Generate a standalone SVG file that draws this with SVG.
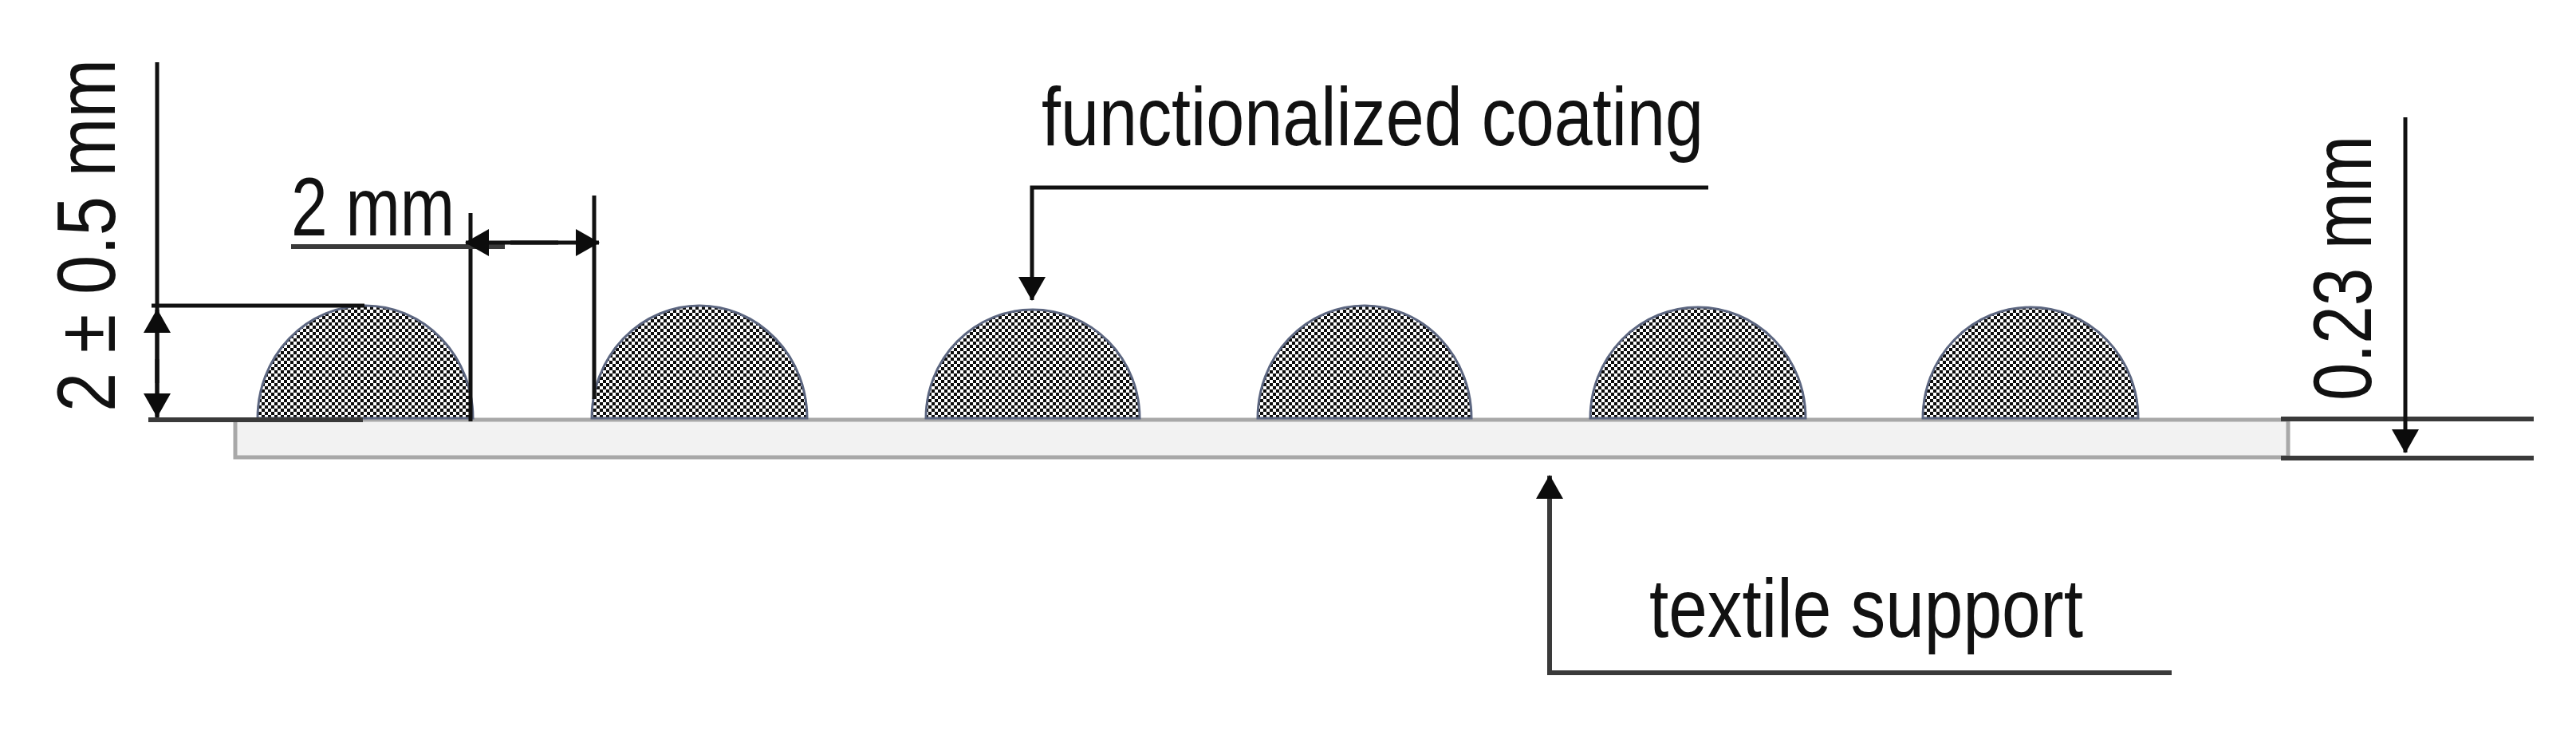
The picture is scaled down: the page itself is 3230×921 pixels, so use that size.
<svg xmlns="http://www.w3.org/2000/svg" width="3230" height="921" viewBox="0 0 3230 921">
<style>
.t{font-family:"Liberation Sans",Arial,sans-serif;fill:#111;font-size:103px}
.l{stroke:#111;stroke-width:5;fill:none}
.g{stroke:#3a3a3a;stroke-width:6;fill:none}
.dome{fill:url(#chk);stroke:#5c6680;stroke-width:3}
</style>
<defs>
<pattern id="chk" width="8" height="8" patternUnits="userSpaceOnUse">
<rect width="8" height="8" fill="#fff"/>
<rect width="4" height="4" fill="#0c0c0c"/>
<rect x="4" y="4" width="4" height="4" fill="#0c0c0c"/>
</pattern>
<marker id="a" markerUnits="userSpaceOnUse" markerWidth="32" markerHeight="36" refX="29" refY="17" orient="auto">
<path d="M0,0L30,17L0,34z" fill="#0c0c0c"/>
</marker>
</defs>
<rect width="3230" height="921" fill="#fff"/>
<g id="textile-support">
<rect x="295" y="526" width="2574" height="47" fill="#f2f2f2" stroke="#a8a8a8" stroke-width="5"/>
</g>
<g id="coating">
<path class="dome" d="M323,524A135,141 0 0 1 593,524z"/>
<path class="dome" d="M742,524A135,141 0 0 1 1012,524z"/>
<path class="dome" d="M1161,524A134,136 0 0 1 1429,524z"/>
<path class="dome" d="M1577,524A134,141 0 0 1 1845,524z"/>
<path class="dome" d="M1994,524A135,139 0 0 1 2264,524z"/>
<path class="dome" d="M2411,524A135,139 0 0 1 2681,524z"/>
</g>
<g id="connectors">
<path class="l" d="M197,78V526"/>
<path class="l" d="M190,383H457"/>
<path class="g" d="M186,526H455"/>
<path class="l" d="M197,480V388" marker-end="url(#a)"/>
<path class="l" d="M197,450V522" marker-end="url(#a)"/>
<path class="l" d="M590,267V528"/>
<path class="l" d="M745,245V500"/>
<path class="g" d="M365,309H633"/>
<path class="l" d="M700,304H584" marker-end="url(#a)"/>
<path class="l" d="M640,304H751" marker-end="url(#a)"/>
<path class="l" d="M2142,235H1294V376" marker-end="url(#a)"/>
<path class="g" d="M2723,843H1943V596" marker-end="url(#a)"/>
<path class="g" d="M2860,525H3177M2860,574H3177"/>
<path class="l" d="M3016,147V567" marker-end="url(#a)"/>
</g>
<g id="labels">
<text class="t" x="365" y="295" textLength="205" lengthAdjust="spacingAndGlyphs">2 mm</text>
<text class="t" transform="translate(144,516) rotate(-90)" textLength="442" lengthAdjust="spacingAndGlyphs">2 ± 0.5 mm</text>
<text class="t" transform="translate(2973,502) rotate(-90)" textLength="332" lengthAdjust="spacingAndGlyphs">0.23 mm</text>
<text class="t" x="1306" y="182" textLength="830" lengthAdjust="spacingAndGlyphs">functionalized coating</text>
<text class="t" x="2068" y="798" textLength="544" lengthAdjust="spacingAndGlyphs">textile support</text>
</g>
</svg>
